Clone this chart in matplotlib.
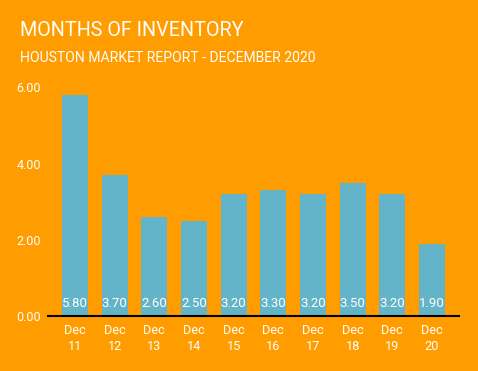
import numpy as np
import matplotlib.pyplot as plt

plt.rcParams['font.family'] = ['Roboto', 'DejaVu Sans']

months = ['Dec\n11', 'Dec\n12', 'Dec\n13', 'Dec\n14', 'Dec\n15',
          'Dec\n16', 'Dec\n17', 'Dec\n18', 'Dec\n19', 'Dec\n20']
inventory = [5.80, 3.70, 2.60, 2.50, 3.20, 3.30, 3.20, 3.50, 3.20, 1.90]
yticks = [0, 2, 4, 6]

bg = '#FF9D00'
bar_color = '#63B4C8'

W, H = 478, 371
fig = plt.figure(figsize=(W / 100, H / 100), dpi=100, facecolor=bg)
ax = fig.add_axes([48 / W, 55 / H, 411 / W, 228.6 / H])
ax.set_facecolor(bg)

x = np.arange(len(months))
bars = ax.bar(x, inventory, width=0.65, color=bar_color)

for rect, v in zip(bars, inventory):
    ax.text(rect.get_x() + rect.get_width() / 2, 0.17, '{:.2f}'.format(v),
            ha='center', va='bottom', color='white', fontsize=9.5)

ax.set_xlim(-0.68, len(months) - 1 + 0.68)
ax.set_ylim(0, 6)
ax.set_xticks(x)
ax.set_xticklabels(months, color='white', fontsize=9.2, linespacing=1.25)
ax.set_yticks(yticks)
ax.set_yticklabels(['{:.2f}'.format(t) for t in yticks], color='white', fontsize=9)
ax.tick_params(length=0, axis='y', pad=5)
ax.tick_params(length=0, axis='x', pad=6)

for s in ['top', 'right', 'left']:
    ax.spines[s].set_visible(False)
ax.spines['bottom'].set_color('black')
ax.spines['bottom'].set_linewidth(1.5)

fig.text(20 / W, 1 - 31 / H, 'MONTHS OF INVENTORY', color='white',
         fontsize=14.2, va='center', ha='left')
fig.text(20 / W, 1 - 58 / H, 'HOUSTON MARKET REPORT - DECEMBER 2020', color='white',
         fontsize=10.1, va='center', ha='left')

fig.savefig('out.png', dpi=100, facecolor=bg)
